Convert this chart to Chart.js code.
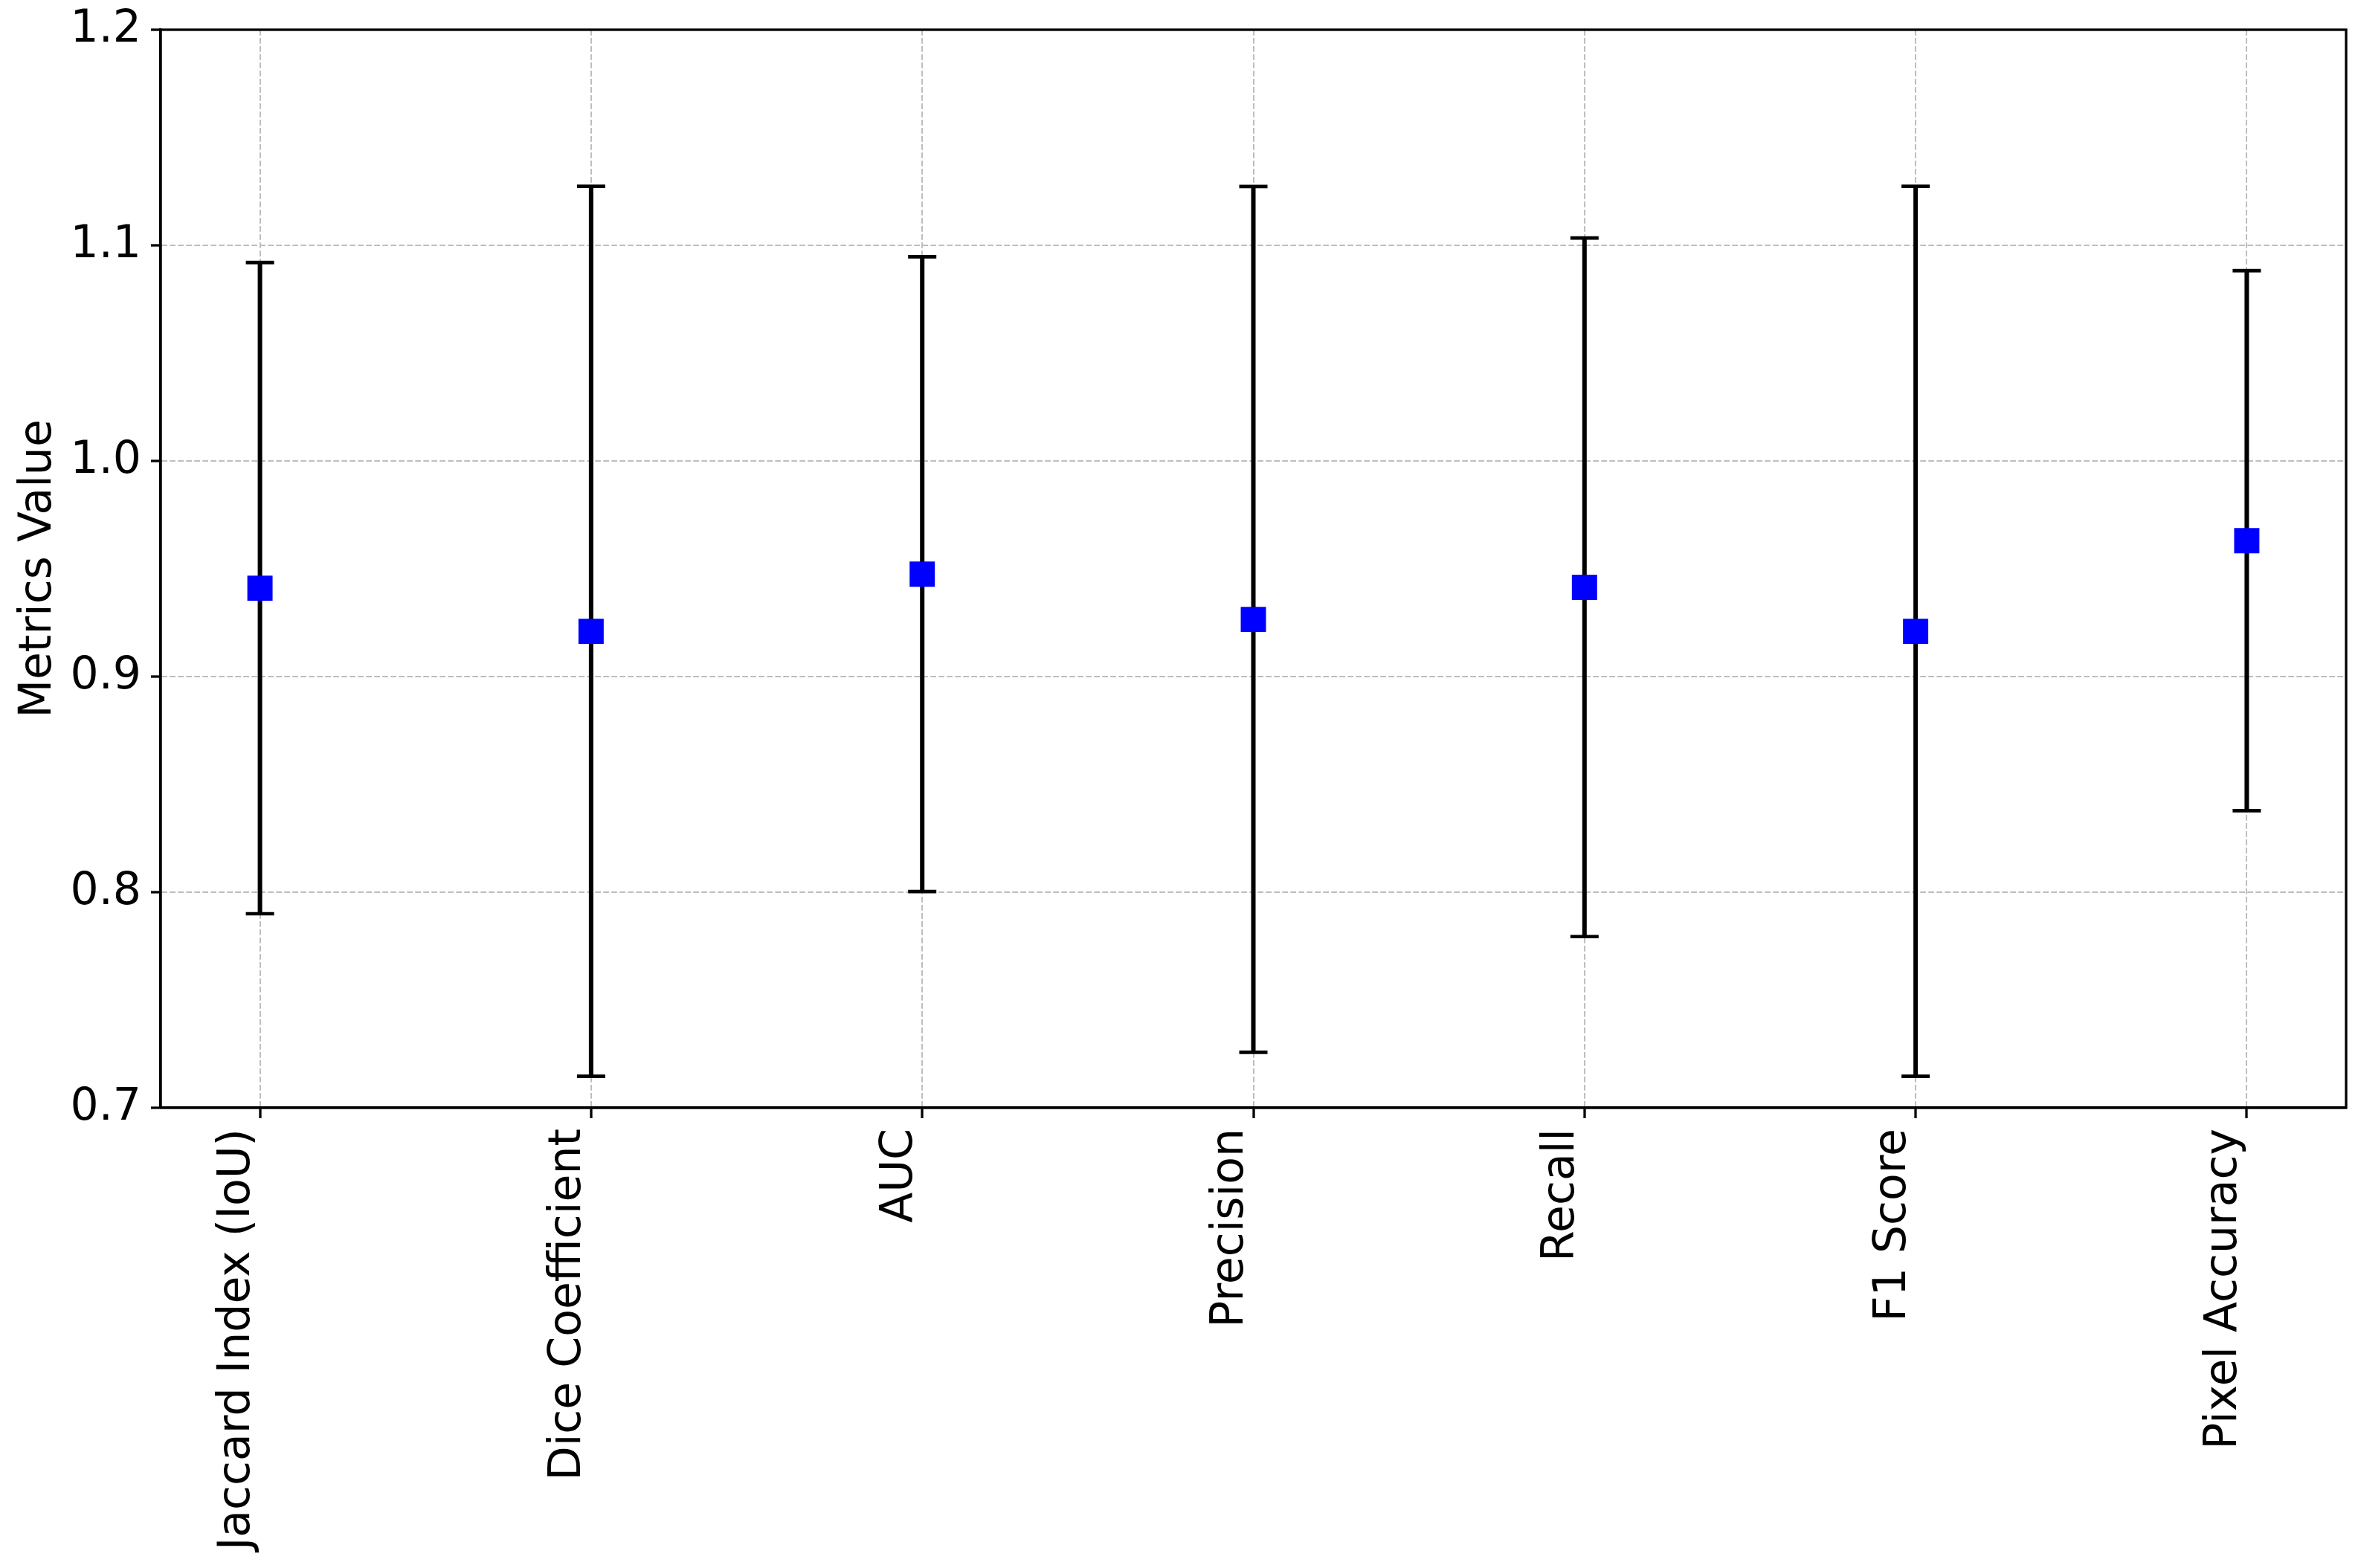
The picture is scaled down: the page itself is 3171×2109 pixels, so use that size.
<!DOCTYPE html>
<html>
<head>
<meta charset="utf-8">
<script src="https://cdn.jsdelivr.net/npm/chart.js@4"></script>
<style>
  html, body { margin: 0; padding: 0; background: #fff; overflow: hidden; }
  #wrap { width: 3171px; height: 2109px; }
</style>
</head>
<body>
<div id="wrap"><canvas id="chart"></canvas></div>
<script>
// Segmentation metrics: mean value and error (+/-) per metric
const metrics = ['Jaccard Index (IoU)', 'Dice Coefficient', 'AUC', 'Precision', 'Recall', 'F1 Score', 'Pixel Accuracy'];
const meanValues = [0.941, 0.921, 0.9475, 0.9265, 0.9414, 0.921, 0.963];
const errValues = [0.151, 0.2064, 0.1472, 0.2008, 0.162, 0.2064, 0.1252];
const yTicks = [0.7, 0.8, 0.9, 1.0, 1.1, 1.2];

const FONT = 'DejaVu Sans';
Chart.defaults.font.family = FONT;
Chart.defaults.font.size = 60;
Chart.defaults.color = '#000';

// Draws the vertical error bars with caps under the markers
const errorBarPlugin = {
  id: 'errorBars',
  beforeDatasetsDraw(chart) {
    const ctx = chart.ctx;
    const xs = chart.scales.x;
    const ys = chart.scales.y;
    ctx.save();
    ctx.strokeStyle = '#000';
    meanValues.forEach((m, i) => {
      const x = xs.getPixelForValue(i);
      const top = ys.getPixelForValue(m + errValues[i]);
      const bot = ys.getPixelForValue(m - errValues[i]);
      ctx.lineWidth = 6;
      ctx.beginPath();
      ctx.moveTo(x, top);
      ctx.lineTo(x, bot);
      ctx.stroke();
      ctx.lineWidth = 4.7;
      ctx.beginPath();
      ctx.moveTo(x - 19, top);
      ctx.lineTo(x + 19, top);
      ctx.moveTo(x - 19, bot);
      ctx.lineTo(x + 19, bot);
      ctx.stroke();
    });
    ctx.restore();
  }
};

// Top and right spines
const framePlugin = {
  id: 'frame',
  afterDraw(chart) {
    const {ctx, chartArea: a} = chart;
    ctx.save();
    ctx.strokeStyle = '#000';
    ctx.lineWidth = 3.3;
    ctx.strokeRect(a.left, a.top, a.right - a.left, a.bottom - a.top);
    ctx.restore();
  }
};

new Chart(document.getElementById('chart'), {
  type: 'scatter',
  data: {
    datasets: [{
      label: 'Metrics',
      data: meanValues.map((v, i) => ({x: i, y: v})),
      pointStyle: 'rect',
      pointRadius: 24,
      pointHoverRadius: 24,
      pointBorderWidth: 0,
      backgroundColor: '#0000ff',
      borderColor: '#0000ff'
    }]
  },
  options: {
    responsive: true,
    maintainAspectRatio: false,
    animation: false,
    devicePixelRatio: 1,
    layout: { autoPadding: false, padding: { left: 0, right: 16, top: 40, bottom: 0 } },
    plugins: {
      legend: { display: false },
      tooltip: { enabled: false }
    },
    scales: {
      x: {
        type: 'linear',
        min: -0.3,
        max: 6.3,
        afterBuildTicks: s => { s.ticks = metrics.map((_, i) => ({value: i})); },
        afterFit: s => {
          s.height = 619;
          s.paddingLeft = 0;
          s.paddingRight = 0;
        },
        ticks: {
          autoSkip: false,
          includeBounds: false,
          minRotation: 90,
          maxRotation: 90,
          padding: 14,
          labelOffset: -30,
          callback: v => metrics[v]
        },
        grid: {
          color: '#bebebe',
          lineWidth: 2,
          tickColor: '#000',
          tickWidth: 3.3,
          tickLength: 14
        },
        border: { color: '#000', width: 3.3, dash: [7.7, 3.3] }
      },
      y: {
        min: 0.7,
        max: 1.2,
        afterBuildTicks: s => { s.ticks = yTicks.map(v => ({value: v})); },
        afterFit: s => {
          s.width = 216;
          s.paddingTop = 0;
          s.paddingBottom = 0;
        },
        ticks: {
          padding: 13,
          callback: v => v.toFixed(1)
        },
        title: {
          display: true,
          text: 'Metrics Value',
          padding: { top: 16, bottom: 0 }
        },
        grid: {
          color: '#bebebe',
          lineWidth: 2,
          tickColor: '#000',
          tickWidth: 3.3,
          tickLength: 13
        },
        border: { color: '#000', width: 3.3, dash: [7.7, 3.3] }
      }
    }
  },
  plugins: [errorBarPlugin, framePlugin]
});
</script>
</body>
</html>
